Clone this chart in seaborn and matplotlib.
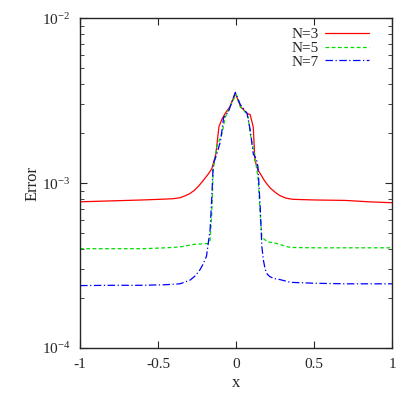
import numpy as np
import matplotlib
matplotlib.use("Agg")
import matplotlib.pyplot as plt
import matplotlib.ticker as mticker
import seaborn as sns

# Error curves (x in [-1, 1], log-scale error)
x_n3 = [-1, -0.8, -0.6, -0.45, -0.4, -0.36, -0.33, -0.3, -0.27, -0.24, -0.21, -0.18,
        -0.156, -0.13, -0.11, -0.09, -0.07, -0.04, -0.006, 0.03, 0.069, 0.09, 0.11,
        0.12, 0.14, 0.16, 0.18, 0.2, 0.22, 0.25, 0.28, 0.32, 0.36, 0.4, 0.5, 0.7,
        0.85, 1]
err_n3 = [7.7e-4, 7.8e-4, 7.9e-4, 8.0e-4, 8.05e-4, 8.15e-4, 8.35e-4, 8.6e-4, 9.0e-4,
          9.6e-4, 1.04e-3, 1.13e-3, 1.22e-3, 1.5e-3, 2.2e-3, 2.45e-3, 2.65e-3, 2.9e-3,
          3.5e-3, 2.9e-3, 2.65e-3, 2.6e-3, 2.18e-3, 1.38e-3, 1.2e-3, 1.12e-3, 1.04e-3,
          9.8e-4, 9.3e-4, 8.8e-4, 8.4e-4, 8.1e-4, 7.98e-4, 7.95e-4, 7.9e-4, 7.85e-4,
          7.7e-4, 7.6e-4]

x_n5 = [-1, -0.8, -0.6, -0.45, -0.36, -0.27, -0.18, -0.167, -0.156, -0.147, -0.124,
        -0.09, -0.07, -0.04, 0.0, 0.026, 0.058, 0.077, 0.09, 0.12, 0.14, 0.154,
        0.165, 0.2, 0.24, 0.28, 0.31, 0.35, 0.5, 0.7, 1]
err_n5 = [4.0e-4, 4.0e-4, 4.0e-4, 4.05e-4, 4.1e-4, 4.25e-4, 4.3e-4, 4.5e-4, 6.6e-4,
          1.2e-3, 1.66e-3, 2.0e-3, 2.5e-3, 2.9e-3, 3.45e-3, 2.9e-3, 2.7e-3, 2.5e-3,
          2.0e-3, 1.44e-3, 1.08e-3, 6.6e-4, 4.7e-4, 4.4e-4, 4.35e-4, 4.25e-4, 4.15e-4,
          4.07e-4, 4.05e-4, 4.05e-4, 4.05e-4]

x_n7 = [-1, -0.8, -0.6, -0.45, -0.36, -0.295, -0.26, -0.23, -0.21, -0.19, -0.167,
        -0.156, -0.147, -0.124, -0.1, -0.08, -0.05, -0.005, 0.026, 0.07, 0.09, 0.11,
        0.13, 0.14, 0.154, 0.165, 0.175, 0.186, 0.2, 0.218, 0.25, 0.28, 0.35, 0.5,
        0.7, 1]
err_n7 = [2.39e-4, 2.4e-4, 2.4e-4, 2.42e-4, 2.45e-4, 2.58e-4, 2.75e-4, 3.0e-4,
          3.25e-4, 3.6e-4, 5.2e-4, 8.2e-4, 1.3e-3, 1.5e-3, 1.8e-3, 2.5e-3, 2.7e-3,
          3.55e-3, 3.0e-3, 2.65e-3, 2.1e-3, 1.5e-3, 1.4e-3, 1.25e-3, 7.2e-4, 4.1e-4,
          3.4e-4, 3.0e-4, 2.8e-4, 2.7e-4, 2.63e-4, 2.6e-4, 2.5e-4, 2.47e-4, 2.45e-4,
          2.45e-4]

labels = ["N=3", "N=5", "N=7"]
colors = ["#ff0000", "#00dd00", "#0000ff"]
styles = ["-", (0, (3, 2)), (0, (6, 2, 1, 2))]

sns.set_style("ticks")
plt.rcParams["font.family"] = ["Liberation Serif", "DejaVu Serif"]
plt.rcParams["mathtext.fontset"] = "stix"

fig = plt.figure(figsize=(4.15, 3.95), dpi=100)
ax = fig.add_axes([0.193, 0.119, 0.752, 0.835])

series = [(x_n3, err_n3), (x_n5, err_n5), (x_n7, err_n7)]
for (xs, ys), lab, col, ls in zip(series, labels, colors, styles):
    sns.lineplot(x=xs, y=ys, ax=ax, color=col, linestyle=ls, linewidth=0.9,
                 label=lab)

ax.set_yscale("log")
ax.set_xlim(-1, 1)
ax.set_ylim(1e-4, 1e-2)
ax.set_xticks([-1, -0.5, 0, 0.5, 1])
ax.set_xticklabels(["-1", "-0.5", "0", "0.5", "1"])
ax.yaxis.set_major_formatter(mticker.LogFormatterMathtext())
ax.tick_params(which="both", direction="in", top=True, right=True, labelsize=11)
ax.tick_params(which="major", length=5, pad=7)
ax.tick_params(which="minor", length=3)
for sp in ax.spines.values():
    sp.set_linewidth(1.0)

ax.set_xlabel("x", fontsize=12, labelpad=3)
ax.set_ylabel("Error", fontsize=12, labelpad=1)

ax.legend(loc="upper right", bbox_to_anchor=(0.945, 0.99), borderaxespad=0,
          frameon=False, markerfirst=False, fontsize=11, handlelength=2.9,
          labelspacing=0.0, handletextpad=0.35)

fig.savefig("out.png", dpi=100)
